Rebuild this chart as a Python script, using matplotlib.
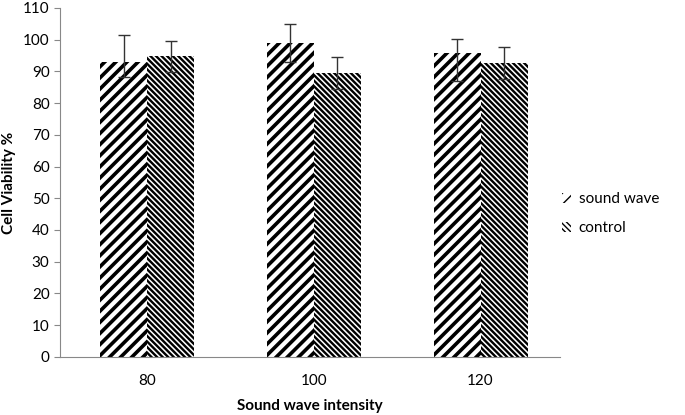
import numpy as np
import matplotlib.pyplot as plt

plt.rcParams['font.family'] = ['Lato', 'DejaVu Sans']
plt.rcParams['hatch.color'] = 'black'

# data
intensity = ['80', '100', '120']
sound_wave = [93, 99, 95.7]
sound_err_low = [4.7, 6, 8.8]
sound_err_high = [8.3, 6, 4.6]
control = [94.7, 89.5, 92.6]
control_err = [5, 5, 5]

x = np.arange(len(intensity))
w = 0.282

fig = plt.figure(figsize=(6.85, 4.15), dpi=100)
ax = fig.add_axes([0.0876, 0.14, 0.73, 0.841])

with plt.rc_context({'hatch.linewidth': 2.6}):
    ax.bar(x - w / 2, sound_wave, w, color='white', edgecolor='black',
           linewidth=0, hatch='///', label='sound wave')
with plt.rc_context({'hatch.linewidth': 1.7}):
    ax.bar(x + w / 2, control, w, color='white', edgecolor='black',
           linewidth=0, hatch='\\' * 6, label='control')

ax.errorbar(x - w / 2, sound_wave, yerr=[sound_err_low, sound_err_high],
            fmt='none', ecolor='#333333', elinewidth=1, capsize=4, capthick=1)
ax.errorbar(x + w / 2, control, yerr=control_err,
            fmt='none', ecolor='#333333', elinewidth=1, capsize=4, capthick=1)

ax.set_xlim(-0.523, 2.477)
ax.set_ylim(0, 110)
ax.set_yticks(range(0, 111, 10))
ax.set_xticks(x)
ax.set_xticklabels(intensity)
ax.tick_params(axis='x', length=0, pad=12, labelsize=11)
ax.tick_params(axis='y', length=4, direction='out', labelsize=11, color='#888888')
for s in ['top', 'right']:
    ax.spines[s].set_visible(False)
for s in ['left', 'bottom']:
    ax.spines[s].set_color('#888888')

ax.set_xlabel('Sound wave intensity', fontweight='bold', fontsize=11, labelpad=8)
ax.set_ylabel('Cell Viability %', fontweight='bold', fontsize=11, labelpad=5)

fig.legend(loc='upper left', bbox_to_anchor=(0.8, 0.57), frameon=False,
           handlelength=0.6, handleheight=0.6, handletextpad=0.5,
           labelspacing=1.0, fontsize=11)

fig.savefig('out.png', dpi=100)
